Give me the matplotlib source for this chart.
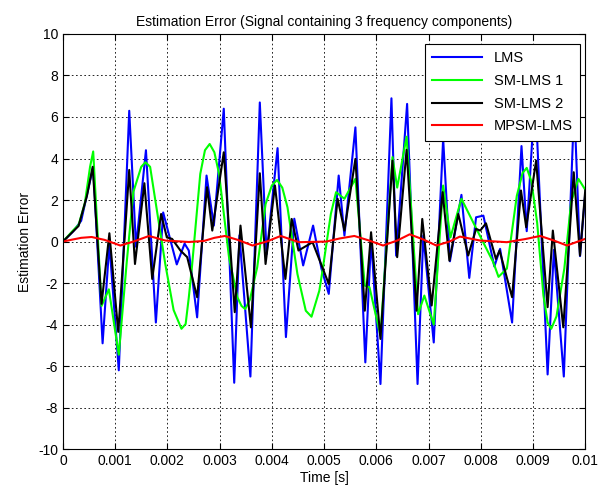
import matplotlib
matplotlib.use("Agg")
import matplotlib.pyplot as plt
import numpy as np

# time in ms
t_lms = [0, 0.2, 0.35, 0.58, 0.76, 0.89, 1.07, 1.27, 1.40, 1.59, 1.78, 1.92, 2.18, 2.33,
         2.41, 2.57, 2.75, 2.89, 3.08, 3.28, 3.38, 3.59, 3.77, 3.90, 4.11, 4.27, 4.43,
         4.60, 4.79, 4.95, 5.09, 5.28, 5.39, 5.60, 5.79, 5.90, 6.08, 6.29, 6.38, 6.59,
         6.79, 6.90, 7.10, 7.28, 7.41, 7.63, 7.78, 7.91, 8.05, 8.26, 8.37, 8.60, 8.78,
         8.88, 9.04, 9.28, 9.40, 9.59, 9.79, 9.90, 10.0]
lms = [0, 0.5, 1.0, 3.6, -4.9, -0.1, -6.2, 6.3, -0.25, 4.4, -3.9, 1.4, -1.1, -0.1,
       -0.43, -3.65, 3.18, 0.77, 6.4, -6.8, 0.3, -6.5, 6.7, -0.6, 4.5, -4.6, 1.1,
       -1.15, 0.77, -1.3, -2.52, 3.18, 0.29, 5.5, -5.82, 0.13, -6.86, 6.9, -0.68, 6.63,
       -6.86, 0.29, -4.86, 4.95, -0.95, 2.25, -1.75, 1.17, 1.25, -1.2, -0.35, -3.9, 4.6,
       0.5, 7.2, -6.4, -0.4, -6.5, 6.6, -0.7, 2.3]

t_sm1 = [0, 0.2, 0.3, 0.42, 0.52, 0.58, 0.74, 0.88, 1.07, 1.22, 1.35, 1.50, 1.58, 1.67,
         1.77, 1.96, 2.12, 2.27, 2.35, 2.41, 2.47, 2.63, 2.72, 2.81, 2.90, 2.99, 3.18,
         3.34, 3.42, 3.49, 3.58, 3.72, 3.88, 4.00, 4.10, 4.20, 4.30, 4.49, 4.65, 4.76,
         4.91, 4.97, 5.13, 5.23, 5.39, 5.60, 5.78, 5.87, 6.08, 6.31, 6.40, 6.58, 6.80,
         6.92, 7.10, 7.28, 7.42, 7.63, 7.92, 8.24, 8.34, 8.50, 8.69, 8.80, 8.88, 8.97,
         9.08, 9.20, 9.28, 9.35, 9.45, 9.60, 9.73, 9.87, 10.0]
sm1 = [0, 0.55, 0.8, 1.85, 3.6, 4.34, -3.1, -2.3, -5.45, -1.05, 2.4, 3.6, 3.82, 3.6,
       1.98, -1.08, -3.3, -4.2, -3.97, -2.7, -1.24, 3.26, 4.4, 4.7, 4.3, 3.26, -0.75,
       -2.68, -3.1, -3.25, -2.8, -1.24, 1.8, 2.7, 2.97, 2.6, 1.65, -1.56, -3.33, -3.62,
       -2.36, -1.4, 1.33, 2.38, 2.06, 3.02, -2.12, -2.2, -4.53, 4.07, 2.6, 5.05, -3.5,
       -2.6, -4.0, 2.7, 0.2, 2.06, 0.6, -1.0, -1.7, -1.3, 2.2, 3.3, 3.55, 2.9,
       0.9, -2.6, -3.9, -4.2, -3.6, -1.3, 1.9, 3.02, 2.5]

t_sm2 = [0, 0.2, 0.3, 0.46, 0.57, 0.74, 0.89, 1.06, 1.27, 1.38, 1.56, 1.71, 1.88, 1.99,
         2.09, 2.25, 2.38, 2.57, 2.76, 2.86, 3.08, 3.29, 3.40, 3.60, 3.77, 3.88, 4.06,
         4.26, 4.38, 4.51, 4.78, 5.09, 5.26, 5.39, 5.60, 5.78, 5.90, 6.08, 6.31, 6.40,
         6.58, 6.77, 6.88, 7.06, 7.27, 7.40, 7.57, 7.76, 7.91, 7.99, 8.10, 8.29, 8.36,
         8.60, 8.77, 8.87, 9.06, 9.28, 9.38, 9.58, 9.78, 9.90, 10.0]
sm2 = [0, 0.5, 0.75, 2.2, 3.6, -3.0, 0.4, -4.35, 3.45, -1.08, 2.81, -1.8, 1.33, 0.2,
       0.13, -0.43, -0.75, -2.68, 2.62, 0.53, 4.3, -3.4, 0.77, -4.13, 3.29, -1.08, 2.7,
       -1.8, 1.09, -0.43, -0.03, -2.04, 2.06, 0.53, 3.98, -3.33, 0.45, -4.69, 3.9, -0.75,
       4.42, -3.33, 1.09, -3.08, 2.38, -0.92, 1.33, -0.67, 0.61, 0.53, 0.88, -0.84, -0.43,
       -2.68, 2.46, 0.69, 3.9, -3.16, 0.53, -4.13, 3.34, -0.67, 2.46]

t_mpsm = [0, 0.15, 0.35, 0.55, 0.8, 1.1, 1.35, 1.65, 1.96, 2.41, 2.7, 2.9, 3.1, 3.35,
          3.63, 3.9, 4.17, 4.52, 5.04, 5.3, 5.58, 5.85, 6.13, 6.4, 6.64, 6.9, 7.15, 7.4,
          7.6, 7.99, 8.5, 8.85, 9.14, 9.4, 9.65, 10.0]
mpsm = [0, 0.08, 0.18, 0.22, 0.08, -0.19, 0.0, 0.27, 0.05, -0.02, 0.03, 0.18, 0.27, 0.08,
        -0.19, 0.0, 0.27, -0.03, 0.0, 0.15, 0.27, 0.06, -0.19, 0.05, 0.35, 0.1, -0.19, 0.0,
        0.24, 0.05, -0.03, 0.12, 0.27, 0.05, -0.19, 0.13]

xticks = [0, 0.001, 0.002, 0.003, 0.004, 0.005, 0.006, 0.007, 0.008, 0.009, 0.01]
xtick_labels = ["0", "0.001", "0.002", "0.003", "0.004", "0.005", "0.006", "0.007",
                "0.008", "0.009", "0.01"]
yticks = list(range(-10, 11, 2))

plt.rcParams.update({
    "font.family": ["Liberation Sans", "DejaVu Sans"],
    "font.size": 10,
    "axes.unicode_minus": False,
})

fig, ax = plt.subplots(figsize=(5.99, 4.92), dpi=100)
fig.subplots_adjust(left=0.105, right=0.977, bottom=0.087, top=0.931)

ax.plot(np.array(t_lms) * 1e-3, lms, color="#0000ff", lw=1.5, label="LMS")
ax.plot(np.array(t_sm1) * 1e-3, sm1, color="#00ff00", lw=1.5, label="SM-LMS 1")
ax.plot(np.array(t_sm2) * 1e-3, sm2, color="black", lw=1.5, label="SM-LMS 2")
ax.plot(np.array(t_mpsm) * 1e-3, mpsm, color="#ff0000", lw=1.5, label="MPSM-LMS")

ax.set_xlim(0, 0.01)
ax.set_ylim(-10, 10)
ax.set_xticks(xticks)
ax.set_xticklabels(xtick_labels)
ax.set_yticks(yticks)
ax.tick_params(direction="in", top=True, right=True, length=4, colors="black")
ax.grid(True, color="black", linestyle=(0, (2, 3)), linewidth=0.6)
for s in ax.spines.values():
    s.set_color("black")

ax.set_title("Estimation Error (Signal containing 3 frequency components)", fontsize=10)
ax.set_xlabel("Time [s]", labelpad=2)
ax.set_ylabel("Estimation Error")

leg = ax.legend(loc="upper right", bbox_to_anchor=(0.99, 0.976), fancybox=False,
                framealpha=1, edgecolor="black", handlelength=3.4, borderaxespad=0,
                labelspacing=0.6, fontsize=10.5, borderpad=0.5)
leg.get_frame().set_linewidth(0.8)

fig.savefig("out.png", dpi=100)
